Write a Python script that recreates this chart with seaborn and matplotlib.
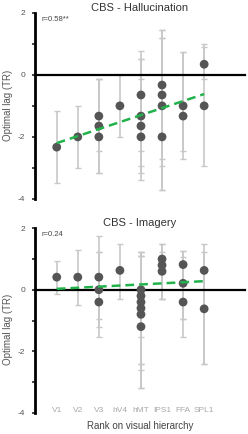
import matplotlib
matplotlib.use('Agg')
import matplotlib.pyplot as plt
from matplotlib.ticker import MultipleLocator
import numpy as np
import pandas as pd
import seaborn as sns

regions = ['V1', 'V2', 'V3', 'hV4', 'hMT', 'IPS1', 'FFA', 'SPL1']

# CBS - Hallucination: region index, optimal lag, error bar low/high
hall_region = [0, 1, 2, 2, 2, 3, 4, 4, 4, 4, 5, 5, 5, 5, 6, 6, 7, 7]
hall_lag = [-2.33, -2.0, -1.33, -1.65, -2.0, -1.0, -0.65, -1.33, -1.65, -2.0,
            -0.33, -0.65, -1.0, -2.0, -1.0, -1.33, 0.34, -1.0]
hall_lo = [-3.47, -3.0, -2.47, -3.17, -3.17, -2.0, -2.47, -3.17, -3.38, -2.95,
           -2.72, -2.95, -3.7, -3.7, -2.72, -2.47, -0.14, -2.95]
hall_hi = [-1.17, -1.0, -0.14, -0.14, -0.14, 0.0, 0.76, 0.52, -0.14, 0.52,
           1.43, 1.2, 1.2, 1.43, 0.74, 0.74, 0.9, 1.0]
hall_fit = [-2.2, -0.62]   # trend line at V1 and SPL1
hall_r = 'r=0.58**'

# CBS - Imagery
imag_region = [0, 1, 2, 2, 2, 3, 4, 4, 4, 4, 4, 4, 5, 5, 5, 6, 6, 6, 7, 7]
imag_lag = [0.41, 0.41, 0.41, 0.0, -0.4, 0.63, 0.0, -0.2, -0.4, -0.6, -0.8, -1.2,
            1.0, 0.8, 0.6, 0.82, 0.21, -0.4, 0.63, -0.62]
imag_lo = [-0.13, -0.49, -0.94, -1.53, -1.21, -0.29, -1.53, -2.4, -2.6, -3.21, -2.4, -3.21,
           -0.29, -0.29, -0.29, -0.94, -1.53, -0.94, -2.4, -2.4]
imag_hi = [0.95, 1.3, 1.76, 1.22, 1.22, 1.49, 1.22, 1.11, 1.22, 1.11, 1.22, 1.11,
           1.49, 1.22, 1.49, 1.25, 1.06, 1.25, 1.49, 1.22]
imag_fit = [0.03, 0.28]
imag_r = 'r=0.24'

sns.set_style('white')
plt.rcParams['font.family'] = ['Liberation Sans', 'DejaVu Sans']
plt.rcParams['axes.unicode_minus'] = False

fig = plt.figure(figsize=(2.48, 4.34), dpi=100)
ax_top = fig.add_axes([0.14, 0.5415, 0.848, 0.4292])
ax_bot = fig.add_axes([0.14, 0.049, 0.848, 0.425])


def panel(ax, reg, lag, lo, hi, fit, rtxt, title, show_labels, label_y):
    df = pd.DataFrame({'region': reg, 'lag': lag, 'lo': lo, 'hi': hi})
    yerr = np.vstack([df['lag'] - df['lo'], df['hi'] - df['lag']])
    ax.errorbar(df['region'], df['lag'], yerr=yerr, fmt='none', ecolor='#c8c8c8',
                elinewidth=1.2, capsize=2.5, capthick=1.0, zorder=1)
    sns.scatterplot(data=df, x='region', y='lag', ax=ax, color='#555555', s=40,
                    edgecolor='none', zorder=3, legend=False)
    ax.plot([0, len(regions) - 1], fit, color='#22b24c', lw=1.8, ls=(0, (3.5, 2)), zorder=4)

    ax.set_xlim(-1.045, 8.94)
    ax.set_ylim(-4, 2)
    for s in ['top', 'right']:
        ax.spines[s].set_visible(False)
    ax.spines['left'].set_linewidth(2.0)
    ax.spines['left'].set_color('black')
    ax.spines['bottom'].set_position(('data', 0))
    ax.spines['bottom'].set_linewidth(1.6)
    ax.spines['bottom'].set_color('black')
    ax.set_xticks(range(len(regions)))
    ax.tick_params(axis='x', direction='inout', length=3, width=1.2, labelbottom=False)
    ax.yaxis.set_major_locator(MultipleLocator(2))
    ax.yaxis.set_minor_locator(MultipleLocator(1))
    ax.tick_params(axis='y', which='both', left=True, direction='out', length=2,
                   width=1.2, labelsize=6, labelcolor='#555555', pad=5)
    ax.set_ylabel('Optimal lag (TR)', fontsize=7, color='#555555')
    ax.yaxis.set_label_coords(-0.105, label_y)
    ax.set_xlabel('')
    ax.set_title(title, fontsize=8, color='#333333', pad=1.5)
    ax.text(0.03, 0.985, rtxt, transform=ax.transAxes, fontsize=5.5,
            color='#444444', va='top', ha='left')

    if show_labels:
        sec = ax.secondary_xaxis('bottom')
        sec.set_xticks(range(len(regions)))
        sec.set_xticklabels(regions)
        sec.tick_params(length=0, labelsize=6, labelcolor='#a8a8a8', pad=-4)
        sec.spines['bottom'].set_visible(False)
        sec.set_xlabel('Rank on visual hierarchy', fontsize=7, color='#444444', labelpad=5)


panel(ax_top, hall_region, hall_lag, hall_lo, hall_hi, hall_fit, hall_r,
      'CBS - Hallucination', False, 0.5)
panel(ax_bot, imag_region, imag_lag, imag_lo, imag_hi, imag_fit, imag_r,
      'CBS - Imagery', True, 0.45)

fig.savefig('out.png', dpi=100)
